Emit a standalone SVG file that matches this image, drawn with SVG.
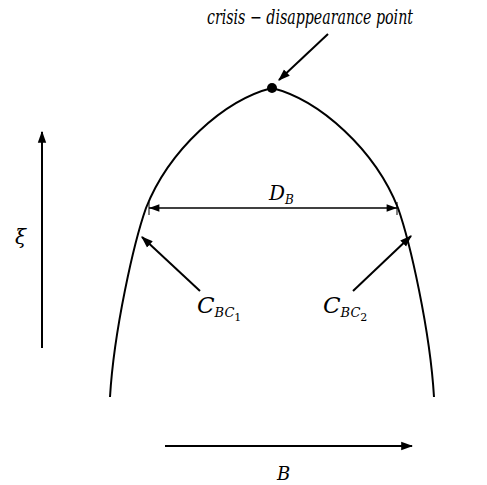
<svg xmlns="http://www.w3.org/2000/svg" width="487" height="485" viewBox="0 0 487 485">
<defs>
<marker id="ah" viewBox="0 0 10 10" refX="9" refY="5" markerWidth="6" markerHeight="6" markerUnits="strokeWidth" orient="auto"><path d="M0,1.5 L10,5 L0,8.5 Z" fill="#000"/></marker>
<marker id="ahs" viewBox="0 0 10 10" refX="10" refY="5" markerWidth="10" markerHeight="8" markerUnits="strokeWidth" orient="auto-start-reverse"><path d="M0,1.5 L10,5 L0,8.5 Z" fill="#000"/></marker>
</defs>
<rect width="487" height="485" fill="#fff"/>
<g id="curve">
<path stroke="#000" fill="none" stroke-width="2" d="M110,397 C114,330 134,242 146,208 C169,150 224,100 272,88 C320,100 375,150 398,208 C410,242 430,330 434,397"/>
</g>
<g id="point">
<circle cx="272" cy="88" r="5" fill="#000"/>
<text x="207" y="24" font-size="20" font-family="DejaVu Serif" font-style="italic" textLength="206" lengthAdjust="spacingAndGlyphs">crisis &#8722; disappearance point</text>
</g>
<g id="connectors" stroke="#000" fill="none">
<line stroke-width="2" x1="328" y1="34" x2="279" y2="80" marker-end="url(#ah)"/>
<line stroke-width="1.3" x1="149" y1="208" x2="397" y2="208" marker-start="url(#ahs)" marker-end="url(#ahs)"/>
<line stroke-width="1" x1="149" y1="202" x2="149" y2="215"/>
<line stroke-width="1" x1="397" y1="202" x2="397" y2="215"/>
<line stroke-width="2" x1="200" y1="291" x2="142" y2="237" marker-end="url(#ah)"/>
<line stroke-width="2" x1="353" y1="291" x2="411" y2="236" marker-end="url(#ah)"/>
<line stroke-width="2" x1="42" y1="348" x2="42" y2="132" marker-end="url(#ah)"/>
<line stroke-width="2" x1="165" y1="446" x2="412" y2="446" marker-end="url(#ah)"/>
</g>
<g id="labels" font-family="DejaVu Serif" font-style="italic">
<text x="269" y="200" font-size="20">D<tspan font-size="12" dy="4">B</tspan></text>
<text x="197" y="313" font-size="23">C<tspan font-size="13" dy="4">BC</tspan><tspan font-size="11" font-style="normal" dy="4">1</tspan></text>
<text x="323" y="313" font-size="23">C<tspan font-size="13" dy="4">BC</tspan><tspan font-size="11" font-style="normal" dy="4">2</tspan></text>
<text x="15" y="244" font-size="20">&#958;</text>
<text x="277" y="480" font-size="18">B</text>
</g>
</svg>
